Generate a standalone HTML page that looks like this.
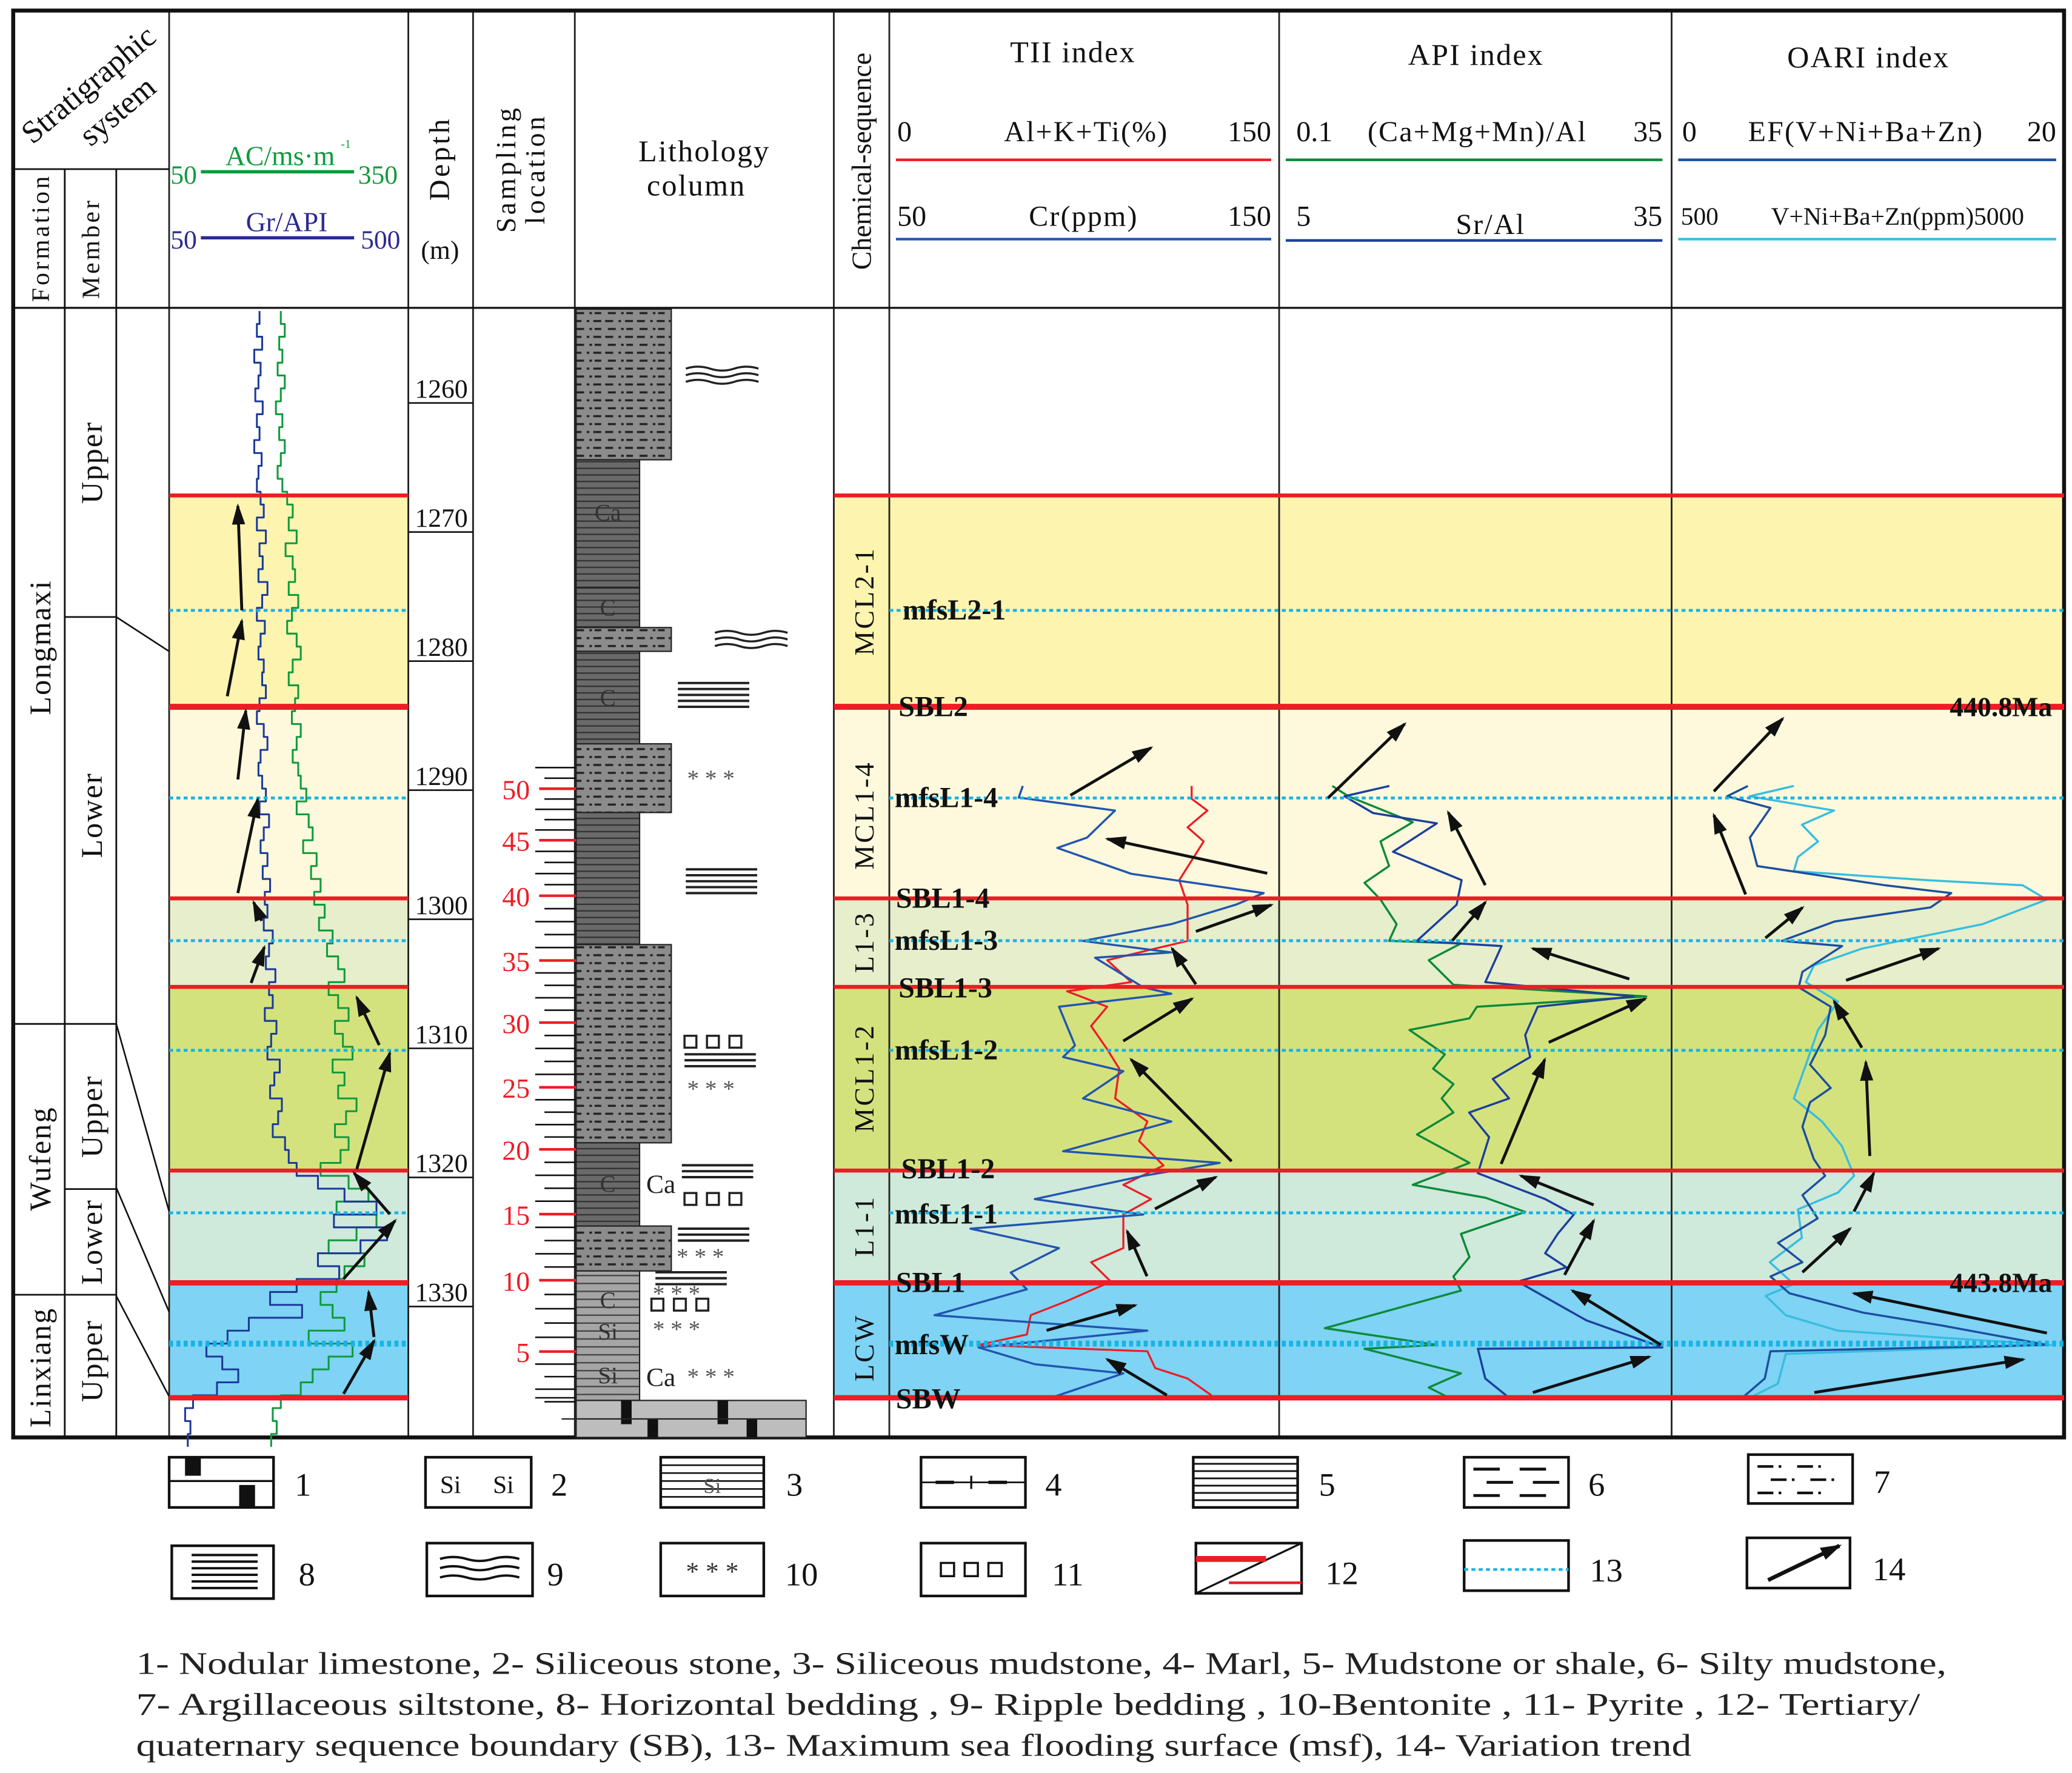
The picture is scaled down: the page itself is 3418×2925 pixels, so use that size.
<!DOCTYPE html>
<html><head><meta charset="utf-8">
<style>
html,body{margin:0;padding:0;background:#fff;}
svg{display:block;font-family:"Liberation Serif",serif;}
</style></head>
<body>
<svg id="fig" width="3418" height="2925" viewBox="0 0 1568 1342" preserveAspectRatio="none" xmlns="http://www.w3.org/2000/svg">
<defs>
<pattern id="silty" width="24" height="12" patternUnits="userSpaceOnUse">
<rect width="24" height="12" fill="#8c8c8c"/>
<path d="M2 3h6M12 3h2M17 3h6M4 9h6M14 9h2M18 9h5" stroke="#222" stroke-width="1.6"/>
</pattern>
<pattern id="mud" width="10" height="5" patternUnits="userSpaceOnUse">
<rect width="10" height="5" fill="#6a6a6a"/><path d="M0 4.5h10" stroke="#333" stroke-width="1.2"/>
</pattern>
<pattern id="mud2" width="10" height="6" patternUnits="userSpaceOnUse">
<rect width="10" height="6" fill="#a5a5a5"/><path d="M0 5.5h10" stroke="#444" stroke-width="1.1"/>
</pattern>
<marker id="ah2" markerWidth="16" markerHeight="10" refX="14" refY="5" orient="auto" markerUnits="userSpaceOnUse"><path d="M0 0L16 5L0 10z" fill="#111"/></marker>
</defs>
<g id="bands"></g>
<g id="grid"></g>
<g id="curves"></g>
<g id="annot"></g>
<g id="legend"></g>
</svg>
<script>
// ---------- data ----------
const logDepthStart = 1254;
const acValues = [190,195,188,192,186,195,190,184,192,188,195,190,186,192,
198,205,200,210,196,205,208,200,212,204,198,210,215,205,200,212,208,204,215,210,205,212,
215,222,210,225,230,218,235,228,240,232,
245,238,255,248,262,270,
250,262,275,258,268,280,255,270,262,285,272,258,275,265,
240,275,300,260,310,285,250,295,270,260,
240,255,270,225,280,250,230,215,
190,180,185,178];
const grValues = [220,215,225,210,222,218,212,226,215,220,210,224,218,215,
222,228,215,232,220,226,218,235,225,215,230,222,218,228,225,232,220,215,228,235,222,218,
225,232,220,238,228,222,235,226,240,230,
235,228,245,238,232,250,
238,245,230,252,242,235,258,248,240,262,255,245,268,275,
290,330,380,440,360,460,410,330,370,290,
240,300,200,160,120,150,180,140,
95,80,90,85];
const tiiDepth = [1290.8,1291.7,1292.7,1294.8,1295.6,1297.6,1299.1,1300.0,1301.5,1302.8,1303.7,1304.1,1306.4,1306.9,1307.9,1310.9,1311.8,1312.9,1315.0,1316.8,1319.1,1320.0,1321.0,1322.8,1324.0,1325.1,1326.6,1328.5,1329.8,1331.8,1333.0,1334.3,1335.6,1336.3,1338.2];
const tiiValues = [50.7,49.1,87.6,76.4,64.5,94.1,147,135.8,110.1,74.8,110.1,79.6,98.9,110.1,65.2,71.6,66.8,90.9,74.8,110.1,66.8,129.4,98.9,55.5,98.9,29.8,65.2,45.9,52.3,15.4,100.5,33.0,55.5,90.9,62.0];
const crDepth = [1290.8,1291.8,1292.7,1294.0,1295.1,1298.1,1300.0,1302.8,1303.4,1304.3,1306.0,1306.7,1307.9,1309.4,1311.2,1312.7,1315.0,1316.8,1318.3,1320.2,1321.7,1322.8,1324.0,1326.6,1327.7,1329.2,1330.7,1331.8,1333.3,1334.1,1334.6,1335.9,1336.7,1338.0];
const crValues = [128.8,128.8,133.0,127.7,132.0,125.5,127.7,127.7,119.1,106.3,112.7,95.6,106.3,102.0,106.3,109.5,108.4,117.0,114.8,121.3,110.6,118.0,110.6,110.6,102.0,107.3,95.6,85.9,84.9,72.0,117.0,119.1,127.7,134.1];
const srDepth = [1290.8,1291.6,1292.9,1293.7,1295.9,1298.1,1300.0,1302.8,1303.2,1306.0,1307.1,1307.9,1310.1,1311.8,1313.5,1315.0,1316.1,1318.0,1320.8,1322.8,1324.0,1325.5,1327.0,1328.1,1329.2,1332.2,1334.3,1334.4,1336.7,1338.2];
const srValues = [13.1,9.5,11.8,16.9,13.4,18.9,18.5,15.3,22.1,20.8,32.7,25.0,24.0,24.4,21.4,22.7,19.5,21.1,20.2,25.6,27.9,26.6,25.6,27.3,23.4,28.9,35.0,20.2,20.8,22.7];
const camgDepth = [1290.8,1291.6,1293.6,1295.1,1297.0,1298.3,1299.6,1301.5,1302.8,1303.0,1304.3,1306.2,1307.1,1307.9,1308.8,1309.7,1311.6,1312.7,1313.9,1315.0,1316.1,1317.8,1320.0,1321.7,1322.7,1323.8,1325.5,1327.3,1328.8,1329.9,1332.8,1334.1,1334.4,1336.3,1337.4,1338.2];
const camgValues = [4.2,5.7,11.7,8.7,9.5,7.2,8.7,10.2,9.5,16.2,13.2,15.5,33.5,17.7,17.0,11.4,14.7,13.6,15.5,14.4,15.5,12.1,17.0,11.7,18.5,22.2,16.2,17.0,15.5,16.2,3.5,14.0,7.2,16.2,13.2,15.1];
const efDepth = [1290.8,1291.6,1292.5,1294.8,1297.0,1298.5,1299.1,1300.2,1301.3,1302.8,1303.2,1305.2,1306.4,1307.9,1310.1,1312.4,1314.2,1315.3,1317.2,1319.7,1321.0,1322.5,1324.3,1326.2,1327.7,1328.8,1330.1,1331.6,1332.6,1334.1,1334.6,1336.7,1338.2];
const efValues = [3.7,2.6,4.9,3.8,4.2,11.0,14.5,13.4,8.3,5.5,8.7,6.6,6.4,8.1,7.8,7.0,8.1,7.0,6.6,7.2,7.8,6.6,7.4,5.3,6.6,4.9,5.9,9.8,14.0,19.6,4.9,4.6,3.4];
const vnDepth = [1290.8,1291.6,1292.7,1293.8,1295.1,1296.3,1297.4,1298.1,1298.5,1299.6,1301.5,1303.4,1304.7,1306.0,1307.5,1309.7,1312.4,1315.0,1316.8,1318.7,1321.0,1322.3,1323.6,1325.8,1327.7,1329.4,1330.3,1331.8,1333.0,1334.1,1334.8,1337.1,1338.2];
const vnValues = [1882,1354,2361,1978,2170,1930,1882,3465,4616,4904,4137,2697,2122,2026,2409,2170,2026,1882,2218,2457,2601,2409,1930,1978,1594,1882,1546,1786,2409,4952,1786,1690,1354];
const depthTicks = [1260,1270,1280,1290,1300,1310,1320,1330];
const sampleLabels = [5,10,15,20,25,30,35,40,45,50];
const sampleLabelY = [1023,969,919,870,823,774,727,678,636,597];

// ---------- axes ----------
const yD = d => 294 + (d - 1260) * 9.77;
const xAC = v => 128 + (v - 50) / 300 * 181;
const xGR = v => 128 + (v - 50) / 450 * 181;
const xAl = v => 678 + v * 1.893;
const xCr = v => 678 + (v - 50) * 2.84;
const xCa = v => 975 + (v - 0.1) / 34.9 * 283;
const xSr = v => 975 + (v - 5) / 30 * 283;
const xEF = v => 1270 + v / 20 * 285;
const xVN = v => 1270 + (v - 500) / 4500 * 285;

const NS = "http://www.w3.org/2000/svg";
function mk(tag, attrs, parent, txt){
  const e = document.createElementNS(NS, tag);
  for (const k in attrs) e.setAttribute(k, attrs[k]);
  if (txt !== undefined) e.textContent = txt;
  parent.appendChild(e);
  return e;
}
const bands = document.getElementById('bands');
const grid = document.getElementById('grid');
const curves = document.getElementById('curves');
const annot = document.getElementById('annot');
const legend = document.getElementById('legend');

const bandDefs = [[375,535,'#fdf4b0'],[535,680,'#fef9dd'],[680,747,'#e6eecb'],[747,886,'#d4e27e'],[886,971,'#cfe9db'],[971,1058,'#7fd3f4']];
bandDefs.forEach(b => {
  [[128,181],[631,931]].forEach(s => {
    const r = mk('rect', {x:s[0], y:b[0], width:s[1], height:b[1]-b[0], fill:b[2]}, bands);
    
    
  });
});

function line(x1,y1,x2,y2,w,c,parent,name,dash){
  const l = mk('line', {x1:x1,y1:y1,x2:x2,y2:y2,stroke:c||'#111','stroke-width':w||1.2}, parent||grid);
  if (dash) l.setAttribute('stroke-dasharray', dash);
  
  
  return l;
}
[128,309,358,435,631,673,968,1265].forEach(x => line(x,8,x,1088,1.3,'#222'));
line(10,233,1562,233,1.5);
line(10,128,128,128,1.3);
line(49,128,49,1088,1.3); line(88,128,88,1088,1.3);
[775,980].forEach(y => line(10,y,49,y,1.3));
[467,775,900,980].forEach(y => line(49,y,88,y,1.3));
line(88,467,128,493,1.2); line(88,775,128,917,1.2); line(88,899,128,993,1.2); line(88,981,128,1057,1.2);
const outer = mk('rect',{x:10,y:8,width:1552,height:1080,fill:'none',stroke:'#111','stroke-width':3},grid);



const sbY = [[375,3],[535,4.5],[680,3],[747,3],[886,3],[971,4],[1058,4]];
sbY.forEach(s => {
  line(128,s[0],309,s[0],s[1],'#ee1c24',annot,'sequence-boundary');
  line(631,s[0],1562,s[0],s[1],'#ee1c24',annot,'sequence-boundary');
});
const mfsY = [[462,2.2],[604,2.2],[712,2.2],[795,2.2],[918,2.2],[1017,4.5]];
mfsY.forEach(m => {
  line(128,m[0],309,m[0],m[1],'#16b4e4',annot,'mfs-line','3 2.5');
  line(673,m[0],1562,m[0],m[1],'#16b4e4',annot,'mfs-line','3 2.5');
});

function rect(x,y,w,h,fill,name){
  const r = mk('rect',{x:x,y:y,width:w,height:h,fill:fill,stroke:'#222','stroke-width':1},grid);
  
  
  return r;
}
rect(436,234,72,114,'url(#silty)','silty-mudstone');
rect(436,348,48,97,'url(#mud)','mudstone');
rect(436,445,48,30,'url(#mud)','mudstone');
rect(436,475,72,18,'url(#silty)','silty-mudstone');
rect(436,493,48,70,'url(#mud)','mudstone');
rect(436,563,72,52,'url(#silty)','silty-mudstone');
rect(436,615,48,100,'url(#mud)','mudstone');
rect(436,715,72,150,'url(#silty)','silty-mudstone');
rect(436,865,48,63,'url(#mud)','mudstone');
rect(436,928,72,34,'url(#silty)','silty-mudstone');
rect(436,962,48,98,'url(#mud2)','siliceous-mudstone');
rect(436,1060,174,28,'#bdbdbd','nodular-limestone');
[[470,1060,8,18],[490,1074,8,14],[543,1060,8,18],[565,1074,8,14]].forEach(b=>{
  const r = mk('rect',{x:b[0],y:b[1],width:b[2],height:b[3],fill:'#111'},grid);
  
  
});
line(425,1074,610,1074,1,'#222',grid,'limestone-line');
function txt(x,y,s,size,fill,anchor,parent,name,extra){
  const t = mk('text',{x:x,y:y,'font-size':size,fill:fill||'#111','text-anchor':anchor||'start'},parent||annot,s);
  if (extra) for (const k in extra) t.setAttribute(k, extra[k]);
  
  
  return t;
}
[[460,394,'Ca'],[460,466,'C'],[460,534,'C'],[460,902,'C'],[460,990,'C'],[460,1014,'Si'],[460,1047,'Si']].forEach(c=>txt(c[0],c[1],c[2],18,'#333','middle',annot,'lithology-code'));
function hlines(x,y,w,n,name){ for(let i=0;i<n;i++) line(x,y+i*4.5,x+w,y+i*4.5,1.8,'#222',annot,name||'horizontal-bedding'); }
function ripple(x,y,w,n){ for(let i=0;i<n;i++){ const p=mk('path',{d:`M${x} ${y+i*5} q${w/6} -3 ${w/3} 0 t${w/3} 0 t${w/3} 0`,fill:'none',stroke:'#222','stroke-width':1.6},annot);   } }
function stars(x,y){ txt(x,y,'* * *',18,'#555','start',annot,'bentonite-symbol'); }
function squares(x,y){ for(let i=0;i<3;i++){ const r=mk('rect',{x:x+i*17,y:y,width:9,height:9,fill:'#fff',stroke:'#222','stroke-width':1.6},annot);   } }
ripple(519,279,55,3); ripple(541,479,55,3);
hlines(513,517,54,5); stars(520,595); hlines(519,658,54,5);
squares(518,784); hlines(518,798,54,3); stars(520,830);
hlines(516,882,54,3); txt(489,903,'Ca',20,'#222','start',annot,'calcareous-label'); squares(518,903);
hlines(513,930,54,3); stars(512,957);
hlines(496,963,54,3); stars(494,985); squares(493,983); stars(494,1012);
txt(489,1049,'Ca',20,'#222','start',annot,'calcareous-label'); stars(520,1048);

function sampY(n){
  if (n<=5) return 1023 + (5-n)*9.5;
  for (let i=0;i<sampleLabels.length-1;i++){
    if (n>=sampleLabels[i] && n<=sampleLabels[i+1]) { const t=(n-sampleLabels[i])/5; return sampleLabelY[i]+t*(sampleLabelY[i+1]-sampleLabelY[i]); }
  }
  return 597 - (n-50)*8;
}
for (let n=1;n<=52;n++){
  const y = sampY(n);
  if (n%5===0) line(408,y,436,y,2,'#ee1c24',annot,'sample-tick-major');
  else line(n%2?412:405,y,436,y,1.2,'#111',annot,'sample-tick');
}
sampleLabels.forEach((s,i)=>txt(401,sampleLabelY[i]+8,String(s),21,'#ee1c24','end',annot,'sample-number'));
line(405,1058,436,1058,1.2,'#111',annot,'sample-tick');

depthTicks.forEach(d=>{
  const y=yD(d);
  txt(334,y+7,String(d),20,'#111','middle',annot,'depth-tick-label');
  line(309,y+11,358,y+11,1.2,'#111',annot,'depth-tick-line');
});

function poly(pts,color,w,name){
  const p = mk('polyline',{points:pts.map(q=>q[0].toFixed(1)+','+q[1].toFixed(1)).join(' '),fill:'none',stroke:color,'stroke-width':w||1.6,'stroke-linejoin':'round'},curves);
  
  
}
function stepPts(vals,fx){
  const pts=[];
  vals.forEach((v,i)=>{ const d=logDepthStart+i; pts.push([fx(v),yD(d)]); pts.push([fx(v),yD(d+1)]); });
  return pts;
}
poly(stepPts(acValues,xAC),'#109a3c',1.4,'ac-curve');
poly(stepPts(grValues,xGR),'#1b3a9a',1.4,'gr-curve');
poly(crDepth.map((d,i)=>[xCr(crValues[i]),yD(d)]),'#ee1c24',1.5,'cr-curve');
poly(tiiDepth.map((d,i)=>[xAl(tiiValues[i]),yD(d)]),'#2255b0',1.6,'tii-curve');
poly(camgDepth.map((d,i)=>[xCa(camgValues[i]),yD(d)]),'#0d8a3a',1.6,'camgmn-al-curve');
poly(srDepth.map((d,i)=>[xSr(srValues[i]),yD(d)]),'#1c3f9c',1.6,'sr-al-curve');
poly(vnDepth.map((d,i)=>[xVN(vnValues[i]),yD(d)]),'#38bde0',1.6,'vnibazn-curve');
poly(efDepth.map((d,i)=>[xEF(efValues[i]),yD(d)]),'#1c4fa0',1.6,'ef-curve');

const arrows = [[183,462,180,383],[172,527,183,470],[180,590,186,538],[180,676,195,605],[190,744,200,717],[198,697,192,683],[287,791,270,755],[270,885,295,797],[295,919,268,888],[260,968,299,924],[283,1012,279,978],[260,1055,283,1015],
[810,602,871,566],[959,661,838,635],[905,705,962,685],[905,745,887,718],[850,788,902,756],[932,879,856,802],[874,915,920,891],[868,966,853,932],[792,1007,859,988],[883,1056,838,1029],
[1005,604,1063,548],[1124,670,1096,615],[1099,712,1124,683],[1233,741,1160,718],[1172,789,1245,756],[1136,881,1169,802],[1206,912,1151,890],[1184,965,1206,924],[1257,1018,1190,977],[1160,1054,1248,1027],
[1297,599,1349,544],[1321,677,1297,617],[1336,710,1364,687],[1397,742,1467,718],[1409,793,1388,758],[1415,875,1412,804],[1403,917,1418,888],[1364,963,1400,930],[1549,1009,1403,979],[1373,1054,1531,1029]];
arrows.forEach(a=>{
  const l = mk('line',{x1:a[0],y1:a[1],x2:a[2],y2:a[3],stroke:'#111','stroke-width':2.2,'marker-end':'url(#ah2)'},annot);
  
  
});

[['mfsL2-1',683,469],['SBL2',680,542],['mfsL1-4',677,611],['SBL1-4',678,687],['mfsL1-3',677,719],['SBL1-3',680,755],['mfsL1-2',677,802],['SBL1-2',682,892],['mfsL1-1',677,926],['SBL1',678,978],['mfsW',677,1025],['SBW',678,1066]].forEach(b=>txt(b[1],b[2],b[0],22,'#111','start',annot,'boundary-label',{'font-weight':'bold'}));
txt(1553,542,'440.8Ma',21,'#111','end',annot,'age-label',{'font-weight':'bold'});
txt(1553,978,'443.8Ma',21,'#111','end',annot,'age-label',{'font-weight':'bold'});
[['MCL2-1',455],['MCL1-4',617],['L1-3',713],['MCL1-2',816],['L1-1',928],['LCW',1020]].forEach(s=>txt(661,s[1],s[0],21,'#111','middle',annot,'sequence-name',{transform:`rotate(-90 661 ${s[1]})`,'letter-spacing':'1.5'}));
[['Longmaxi',490],['Wufeng',877],['Linxiang',1035]].forEach(s=>txt(38,s[1],s[0],23,'#111','middle',annot,'formation-label',{transform:`rotate(-90 38 ${s[1]})`,'letter-spacing':'1'}));
[['Upper',350],['Lower',617],['Upper',845],['Lower',940],['Upper',1030]].forEach(s=>txt(77,s[1],s[0],23,'#111','middle',annot,'member-label',{transform:`rotate(-90 77 ${s[1]})`,'letter-spacing':'1'}));

txt(72,70,'Stratigraphic',24,'#111','middle',annot,'header-stratigraphic',{transform:'rotate(-40 72 70)'});
txt(94,90,'system',24,'#111','middle',annot,'header-stratigraphic',{transform:'rotate(-40 94 90)'});
txt(37,180,'Formation',19,'#111','middle',annot,'header-formation',{transform:'rotate(-90 37 180)','letter-spacing':'2'});
txt(75,188,'Member',19,'#111','middle',annot,'header-member',{transform:'rotate(-90 75 188)','letter-spacing':'2'});
txt(129,139,'50',20,'#109a3c','start',annot,'ac-axis-min');
txt(212,125,'AC/ms·m',21,'#109a3c','middle',annot,'ac-axis-title');
txt(258,112,'-1',9,'#109a3c','start',annot,'ac-axis-title-sup');
txt(271,139,'350',20,'#109a3c','start',annot,'ac-axis-max');
line(152,130,268,130,2.5,'#109a3c',annot,'ac-legend-line');
txt(129,188,'50',20,'#2b2b8f','start',annot,'gr-axis-min');
txt(217,175,'Gr/API',21,'#2b2b8f','middle',annot,'gr-axis-title');
txt(273,188,'500',20,'#2b2b8f','start',annot,'gr-axis-max');
line(152,180,268,180,2.5,'#2b2b8f',annot,'gr-legend-line');
txt(340,120,'Depth',22,'#111','middle',annot,'header-depth',{transform:'rotate(-90 340 120)','letter-spacing':'2'});
txt(333,196,'(m)',20,'#111','middle',annot,'header-depth-unit');
txt(390,128,'Sampling',21,'#111','middle',annot,'header-sampling',{transform:'rotate(-90 390 128)','letter-spacing':'2'});
txt(412,128,'location',21,'#111','middle',annot,'header-sampling',{transform:'rotate(-90 412 128)','letter-spacing':'2'});
txt(533,122,'Lithology',23,'#111','middle',annot,'header-lithology',{'letter-spacing':'1'});
txt(527,148,'column',23,'#111','middle',annot,'header-lithology',{'letter-spacing':'1'});
txt(659,122,'Chemical-sequence',21,'#111','middle',annot,'header-chemical-sequence',{transform:'rotate(-90 659 122)'});
txt(812,47,'TII index',23,'#111','middle',annot,'header-tii',{'letter-spacing':'1'});
txt(1117,49,'API index',23,'#111','middle',annot,'header-api',{'letter-spacing':'1'});
txt(1414,51,'OARI index',23,'#111','middle',annot,'header-oari',{'letter-spacing':'1'});
const ls={'letter-spacing':'1'};
txt(679,107,'0',22,'#111','start',annot,'axis-label'); txt(822,107,'Al+K+Ti(%)',22,'#111','middle',annot,'axis-label',ls); txt(962,107,'150',22,'#111','end',annot,'axis-label');
line(678,121,962,121,2,'#ee1c24',annot,'tii-legend-line');
txt(679,171,'50',22,'#111','start',annot,'axis-label'); txt(820,171,'Cr(ppm)',22,'#111','middle',annot,'axis-label',ls); txt(962,171,'150',22,'#111','end',annot,'axis-label');
line(678,181,962,181,2,'#2255b0',annot,'cr-legend-line');
txt(981,107,'0.1',22,'#111','start',annot,'axis-label'); txt(1118,107,'(Ca+Mg+Mn)/Al',22,'#111','middle',annot,'axis-label',ls); txt(1258,107,'35',22,'#111','end',annot,'axis-label');
line(973,121,1258,121,2,'#0d8a3a',annot,'camgmn-legend-line');
txt(981,171,'5',22,'#111','start',annot,'axis-label'); txt(1128,177,'Sr/Al',22,'#111','middle',annot,'axis-label',ls); txt(1258,171,'35',22,'#111','end',annot,'axis-label');
line(973,182,1258,182,2,'#1c3f9c',annot,'sr-legend-line');
txt(1273,107,'0',22,'#111','start',annot,'axis-label'); txt(1412,107,'EF(V+Ni+Ba+Zn)',22,'#111','middle',annot,'axis-label',ls); txt(1556,107,'20',22,'#111','end',annot,'axis-label');
line(1270,121,1556,121,2,'#1c4fa0',annot,'ef-legend-line');
txt(1272,170,'500',19,'#111','start',annot,'axis-label'); txt(1436,170,'V+Ni+Ba+Zn(ppm)5000',19,'#111','middle',annot,'axis-label');
line(1270,181,1556,181,2,'#38bde0',annot,'vn-legend-line');

function lbox(x,y,w,h,name){ const r=mk('rect',{x:x,y:y,width:w,height:h,fill:'#fff',stroke:'#111','stroke-width':2},legend);   return r; }
function lnum(x,y,s){ txt(x,y,s,25,'#111','start',legend,'legend-number'); }
lbox(128,1103,79,38,'legend-1-box');
[[140,1103,12,14],[181,1124,12,17]].forEach(b=>{const r=mk('rect',{x:b[0],y:b[1],width:b[2],height:b[3],fill:'#111'},legend);  });
line(128,1121,207,1121,1.5,'#111',legend,'legend-line'); lnum(223,1132,'1');
lbox(322,1103,80,38,'legend-2-box'); txt(333,1130,'Si',19,'#111','start',legend,'legend-symbol'); txt(373,1130,'Si',19,'#111','start',legend,'legend-symbol'); lnum(417,1132,'2');
lbox(500,1103,78,38,'legend-3-box'); for(let i=0;i<5;i++) line(500,1109+i*6,578,1109+i*6,1.2,'#111',legend,'legend-line'); txt(539,1130,'Si',16,'#555','middle',legend,'legend-symbol'); lnum(595,1132,'3');
lbox(697,1103,79,38,'legend-4-box'); line(697,1122,776,1122,1.3,'#111',legend,'legend-line'); line(708,1122,722,1122,2.5,'#111',legend,'legend-line'); line(748,1122,762,1122,2.5,'#111',legend,'legend-line'); line(735,1117,735,1127,1.5,'#111',legend,'legend-line'); lnum(791,1132,'4');
lbox(903,1103,79,38,'legend-5-box'); for(let i=0;i<6;i++) line(903,1108+i*5.5,982,1108+i*5.5,1.3,'#111',legend,'legend-line'); lnum(998,1132,'5');
lbox(1108,1103,79,38,'legend-6-box'); [[1115,1112],[1150,1112],[1125,1122],[1160,1122],[1115,1132],[1150,1132]].forEach(p=>{line(p[0],p[1],p[0]+20,p[1],2.2,'#111',legend,'legend-line');}); lnum(1202,1132,'6');
lbox(1323,1101,79,37,'legend-7-box'); [[1330,1110],[1360,1110],[1340,1120],[1370,1120],[1330,1130],[1360,1130]].forEach(p=>{line(p[0],p[1],p[0]+12,p[1],2,'#111',legend,'legend-line'); line(p[0]+16,p[1],p[0]+18,p[1],2,'#111',legend,'legend-line');}); lnum(1418,1130,'7');
lbox(130,1170,77,40,'legend-8-box'); for(let i=0;i<6;i++) line(145,1177+i*5,195,1177+i*5,1.8,'#111',legend,'legend-line'); lnum(226,1200,'8');
lbox(323,1168,80,40,'legend-9-box'); for(let i=0;i<3;i++){const p=mk('path',{d:`M333 ${1180+i*7} q10 -3 20 0 t20 0 t20 0`,fill:'none',stroke:'#111','stroke-width':1.8},legend);  } lnum(414,1200,'9');
lbox(500,1168,78,40,'legend-10-box'); txt(539,1196,'* * *',20,'#333','middle',legend,'legend-symbol'); lnum(594,1200,'10');
lbox(697,1168,79,40,'legend-11-box'); [712,730,748].forEach(x=>{const r=mk('rect',{x:x,y:1183,width:10,height:10,fill:'#fff',stroke:'#111','stroke-width':1.6},legend);  }); lnum(796,1200,'11');
lbox(905,1168,80,38,'legend-12-box'); line(905,1206,985,1168,1.5,'#111',legend,'legend-line'); line(905,1180,958,1180,4.5,'#ee1c24',legend,'legend-sb-thick'); line(930,1198,985,1198,2,'#ee1c24',legend,'legend-sb-thin'); lnum(1003,1199,'12');
lbox(1108,1166,79,38,'legend-13-box'); line(1108,1188,1187,1188,2,'#16b4e4',legend,'legend-mfs','3 2.5'); lnum(1203,1197,'13');
lbox(1322,1164,78,38,'legend-14-box'); const la=mk('line',{x1:1338,y1:1196,x2:1392,y2:1170,stroke:'#111','stroke-width':3,'marker-end':'url(#ah2)'},legend);


lnum(1417,1196,'14');
txt(103,1267,'1- Nodular limestone, 2- Siliceous stone, 3- Siliceous mudstone, 4- Marl, 5- Mudstone or shale, 6- Silty mudstone,',24,'#222','start',legend,'caption-line',{textLength:1370,lengthAdjust:'spacingAndGlyphs'});
txt(103,1298,'7- Argillaceous siltstone, 8- Horizontal bedding ,  9- Ripple bedding ,  10-Bentonite ,   11- Pyrite ,  12- Tertiary/',24,'#222','start',legend,'caption-line',{textLength:1350,lengthAdjust:'spacingAndGlyphs'});
txt(103,1329,'quaternary sequence boundary (SB), 13- Maximum sea flooding surface (msf), 14- Variation trend',24,'#222','start',legend,'caption-line',{textLength:1177,lengthAdjust:'spacingAndGlyphs'});
</script>
</body></html>
